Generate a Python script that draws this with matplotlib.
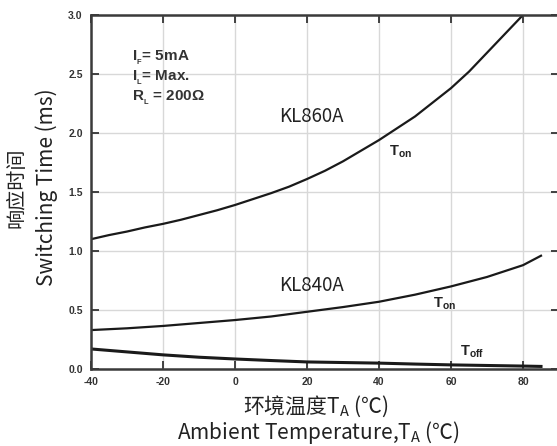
import matplotlib.pyplot as plt
import numpy as np

plt.rcParams['font.family'] = ['Noto Sans CJK SC', 'DejaVu Sans']

# values
temp_860 = [-40, -35, -30, -25, -20, -15, -10, -5, 0, 5, 10, 15, 20, 25, 30,
            35, 40, 45, 50, 55, 60, 65, 70, 75, 80]
kl860_ton = [1.10, 1.135, 1.165, 1.20, 1.23, 1.265, 1.305, 1.345, 1.39, 1.44,
             1.49, 1.545, 1.61, 1.68, 1.76, 1.85, 1.94, 2.04, 2.14, 2.26,
             2.38, 2.52, 2.68, 2.84, 3.00]
temp_840 = [-40, -30, -20, -10, 0, 10, 20, 30, 40, 50, 60, 70, 80, 85]
kl840_ton = [0.33, 0.345, 0.365, 0.39, 0.415, 0.445, 0.485, 0.525, 0.57, 0.63,
             0.70, 0.78, 0.88, 0.96]
toff = [0.17, 0.145, 0.12, 0.10, 0.085, 0.072, 0.06, 0.055, 0.05, 0.042,
        0.035, 0.03, 0.025, 0.022]

x_ticks = [-40, -20, 0, 20, 40, 60, 80]
y_ticks = [0.0, 0.5, 1.0, 1.5, 2.0, 2.5, 3.0]

fig = plt.figure(figsize=(5.57, 4.46), dpi=100)
ax = fig.add_axes([0.1634, 0.1726, 0.8402, 0.7938])

ax.plot(temp_860, kl860_ton, color='#1a1a1a', lw=1.6)
ax.plot(temp_840, kl840_ton, color='#1a1a1a', lw=1.6)
ax.plot(temp_840, toff, color='#1a1a1a', lw=2.2)

ax.set_xlim(-40, 90)
ax.set_ylim(0, 3.0)
ax.set_xticks(x_ticks)
ax.set_yticks(y_ticks)
ax.set_xticklabels([str(t) for t in x_ticks])
ax.set_yticklabels(['%.1f' % t for t in y_ticks])
ax.grid(color='#d8d8d8', lw=1.0)
ax.tick_params(direction='in', top=True, right=True, length=6, width=1.3,
               labelsize=7.5, labelcolor='#333333', color='#333333', pad=6)
for lab in ax.get_xticklabels() + ax.get_yticklabels():
    lab.set_fontfamily('Liberation Sans')
    lab.set_fontweight('bold')
for s in ax.spines.values():
    s.set_linewidth(1.8)
    s.set_color('#3a3a3a')

cond = [r'I$_{_\mathregular{F}}$= 5mA', r'I$_{_\mathregular{L}}$= Max.',
        r'R$_{_\mathregular{L}}$ = 200Ω']
for i, c in enumerate(cond):
    ax.text(-28.6, 2.72 - 0.17 * i, c, fontsize=11, fontweight='bold',
            family='Liberation Sans', color='#333333', va='top')

ax.text(12.2, 2.14, 'KL860A', fontsize=13.5, color='#222222', va='center')
ax.text(12.2, 0.71, 'KL840A', fontsize=13.5, color='#222222', va='center')
ax.text(42.8, 1.915, r'T$_\mathregular{on}$', fontsize=10.5, fontweight='bold',
        family='Liberation Sans', color='#222222', va='top')
ax.text(55, 0.627, r'T$_\mathregular{on}$', fontsize=10.5, fontweight='bold',
        family='Liberation Sans', color='#222222', va='top')
ax.text(62.5, 0.22, r'T$_\mathregular{off}$', fontsize=10.5, fontweight='bold',
        family='Liberation Sans', color='#222222', va='top')

# axis titles (two lines each)
fig.text(17.5 / 557, 1 - 188 / 446, '响应时间', rotation=90, fontsize=14.5,
         color='#222222', ha='center', va='center')
fig.text(46.5 / 557, 1 - 187 / 446, 'Switching Time (ms)', rotation=90,
         fontsize=15, color='#222222', ha='center', va='center')
fig.text(316 / 557, 1 - 406 / 446, '环境温度T$_\\mathregular{A}$ (℃)', fontsize=15,
         color='#222222', ha='center', va='center')
fig.text(318 / 557, 1 - 433 / 446, 'Ambient Temperature,T$_\\mathregular{A}$ (℃)',
         fontsize=15, color='#222222', ha='center', va='center')

fig.savefig('out.png', dpi=100)
